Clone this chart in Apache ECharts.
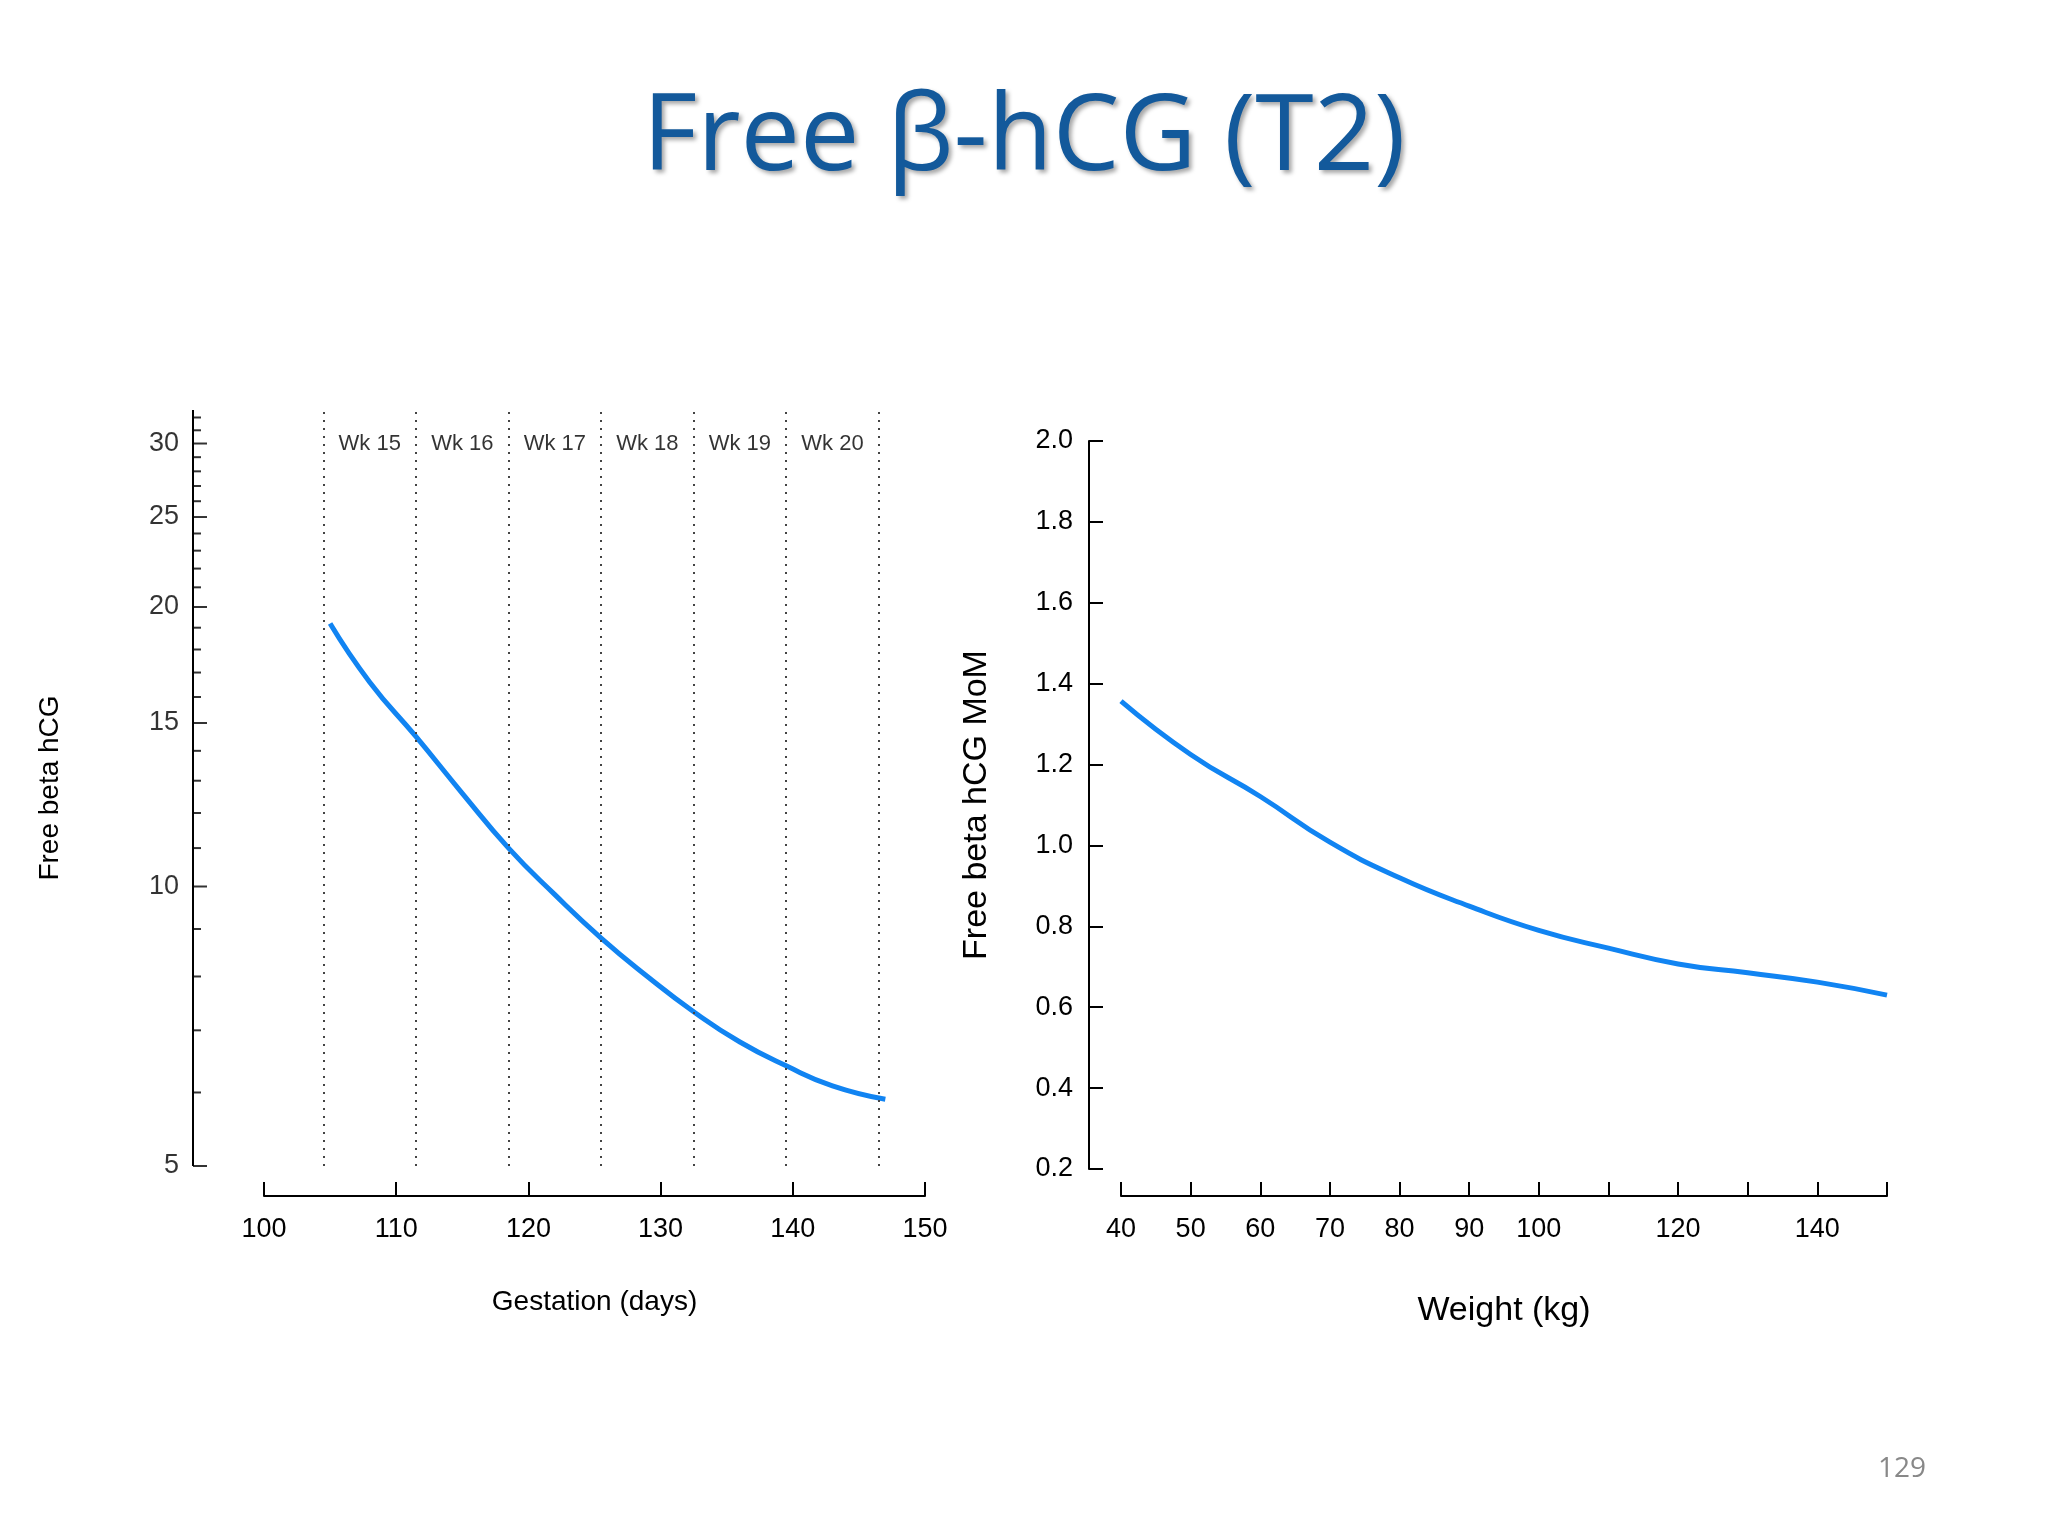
<!DOCTYPE html>
<html><head><meta charset="utf-8">
<script src="https://cdn.jsdelivr.net/npm/echarts@6/dist/echarts.min.js"></script>
<style>html,body{margin:0;background:#fff}#c{width:2048px;height:1536px}</style>
</head><body><div id="c"></div>
<script>
// left panel: gestation vs free beta hCG (log)
const gestDays = [105, 108, 111.5, 115, 118.5, 122, 125.5, 129, 132.5, 136, 139.5, 143, 147];
const hcgValues = [19.2, 16.6, 14.5, 12.6, 11.0, 9.8, 8.8, 8.0, 7.33, 6.8, 6.41, 6.1, 5.9];
const weekLines = [104.5, 111.5, 118.5, 125.5, 132.5, 139.5, 146.5];
const weekLabels = ['Wk 15', 'Wk 16', 'Wk 17', 'Wk 18', 'Wk 19', 'Wk 20'];
const yMajor = [5, 10, 15, 20, 25, 30];
const yMinor = [6, 7, 8, 9, 11, 12, 13, 14, 16, 17, 18, 19, 21, 22, 23, 24, 26, 27, 28, 29, 31, 32];
// right panel: weight vs MoM
const weights = [40, 50, 60, 70, 80, 90, 100, 110, 120, 130, 140, 150];
const momValues = [1.357, 1.225, 1.121, 1.008, 0.92, 0.85, 0.79, 0.746, 0.707, 0.685, 0.662, 0.63];

const chart = echarts.init(document.getElementById('c'));
const font = 'Liberation Sans, Arial, sans-serif';
const axisLine = { lineStyle: { color: '#000', width: 2 } };
const blue = '#1184f2';

chart.setOption({
    animation: false,
    title: [
        { text: 'Free β-hCG (T2)', left: 'center', top: 82,
          textStyle: { fontFamily: 'Open Sans', fontSize: 106, fontWeight: 'normal', color: '#13599b',
              textShadowColor: 'rgba(0,0,0,0.35)', textShadowBlur: 4, textShadowOffsetX: 3, textShadowOffsetY: 3 } },
        { text: '129', left: 1873, top: 1450, textStyle: { fontFamily: 'Open Sans', fontSize: 28, fontWeight: 'normal', color: '#888' } }
    ],
    grid: [
        { left: 264, right: 2048 - 925, top: 410, bottom: 1536 - 1166 },
        { left: 1121, right: 2048 - 1887, top: 441, bottom: 1536 - 1169 }
    ],
    xAxis: [
        { gridIndex: 0, type: 'value', min: 100, max: 150, interval: 10, offset: 30,
          name: 'Gestation (days)', nameLocation: 'middle', nameGap: 92,
          nameTextStyle: { fontFamily: font, fontSize: 28, color: '#000' },
          axisLine, axisTick: { inside: true, length: 14, lineStyle: { color: '#000', width: 2 } },
          axisLabel: { fontFamily: font, fontSize: 27, color: '#000', margin: 20 }, splitLine: { show: false } },
        { gridIndex: 1, type: 'value', min: 40, max: 150, interval: 10, offset: 27,
          name: 'Weight (kg)', nameLocation: 'middle', nameGap: 98,
          nameTextStyle: { fontFamily: font, fontSize: 34, color: '#000' },
          axisLine, axisTick: { inside: true, length: 14, lineStyle: { color: '#000', width: 2 } },
          axisLabel: { fontFamily: font, fontSize: 27, color: '#000', margin: 20,
              formatter: v => ([110, 130, 150].includes(v) ? '' : v) }, splitLine: { show: false } }
    ],
    yAxis: [
        { gridIndex: 0, type: 'log', min: 5, max: 32.6, axisLine: { show: false }, axisTick: { show: false },
          axisLabel: { show: false }, splitLine: { show: false },
          name: 'Free beta hCG', nameLocation: 'middle', nameGap: 200, nameRotate: 90,
          nameTextStyle: { fontFamily: font, fontSize: 28, color: '#000' } },
        { gridIndex: 1, type: 'value', min: 0.2, max: 2.0, interval: 0.2, offset: 32,
          name: 'Free beta hCG MoM', nameLocation: 'middle', nameGap: 95, nameRotate: 90,
          nameTextStyle: { fontFamily: font, fontSize: 34, color: '#000' },
          axisLine, axisTick: { inside: true, length: 14, lineStyle: { color: '#000', width: 2 } },
          axisLabel: { fontFamily: font, fontSize: 27, color: '#000', margin: 16, formatter: v => v.toFixed(1) },
          splitLine: { show: false } }
    ],
    series: [
        { type: 'line', xAxisIndex: 0, yAxisIndex: 0, smooth: true, showSymbol: false,
          lineStyle: { color: blue, width: 5 }, data: gestDays.map((d, i) => [d, hcgValues[i]]),
          markLine: { silent: true, symbol: 'none', label: { show: false },
              lineStyle: { type: [2, 6], color: '#444', width: 2 },
              data: weekLines.map(x => ({ xAxis: x })) } },
        { type: 'scatter', xAxisIndex: 0, yAxisIndex: 0, symbolSize: 0, silent: true,
          data: weekLabels.map((t, i) => ({ value: [(weekLines[i] + weekLines[i + 1]) / 2, 30], name: t })),
          label: { show: true, position: 'inside', formatter: p => p.name, fontFamily: font, fontSize: 22, color: '#000' } },
        // left log axis drawn as ticks at the axis line
        { type: 'scatter', xAxisIndex: 0, yAxisIndex: 0, silent: true, clip: false,
          symbol: 'rect', symbolSize: [14, 2], symbolOffset: [-64, 0], itemStyle: { color: '#000' },
          data: yMajor.map(v => [100, v]),
          label: { show: true, position: 'left', distance: 14, fontFamily: font, fontSize: 27, color: '#000',
              formatter: p => p.value[1] } },
        { type: 'scatter', xAxisIndex: 0, yAxisIndex: 0, silent: true, clip: false,
          symbol: 'rect', symbolSize: [8, 2], symbolOffset: [-67, 0], itemStyle: { color: '#000' },
          data: yMinor.map(v => [100, v]) },
        { type: 'line', xAxisIndex: 1, yAxisIndex: 1, smooth: true, showSymbol: false,
          lineStyle: { color: blue, width: 5 }, data: weights.map((w, i) => [w, momValues[i]]) }
    ]
});
// vertical log axis line at the tick column
const pTop = chart.convertToPixel({ gridIndex: 0 }, [100, 32.6]);
const pBot = chart.convertToPixel({ gridIndex: 0 }, [100, 5]);
chart.setOption({ graphic: [{ type: 'line', shape: { x1: pTop[0] - 71, y1: pTop[1], x2: pBot[0] - 71, y2: pBot[1] },
    style: { stroke: '#000', lineWidth: 2 } }] });
</script></body></html>
